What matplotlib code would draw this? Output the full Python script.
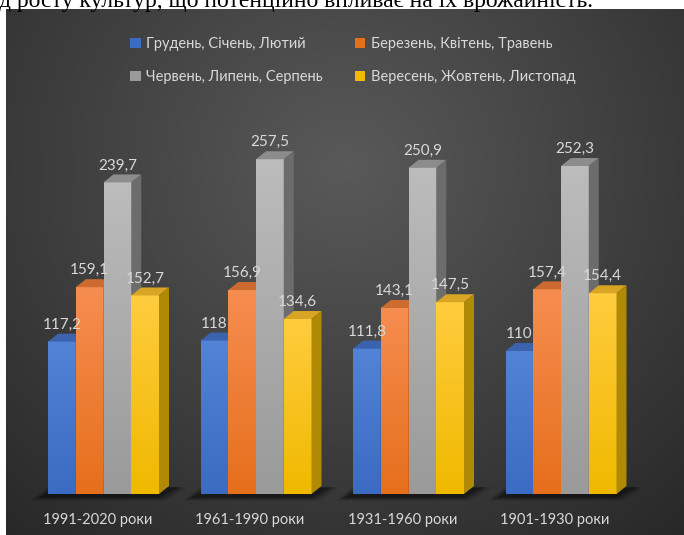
import numpy as np
import matplotlib.pyplot as plt
from matplotlib.patches import Polygon, Patch
from matplotlib.colors import to_rgb

# дані
periods = ['1991-2020 роки', '1961-1990 роки', '1931-1960 роки', '1901-1930 роки']
seasons = ['Грудень, Січень, Лютий', 'Березень, Квітень, Травень',
           'Червень, Липень, Серпень', 'Вересень, Жовтень, Листопад']
winter = [117.2, 118, 111.8, 110]
spring = [159.1, 156.9, 143.1, 157.4]
summer = [239.7, 257.5, 250.9, 252.3]
autumn = [152.7, 134.6, 147.5, 154.4]
series = [winter, spring, summer, autumn]

# кольори: перед (верх, низ), верхня грань, бічна грань
front_top = ['#5283d6', '#f68d50', '#bcbcbc', '#ffcc3d']
front_bot = ['#3b6bc2', '#e66f1c', '#9a9a9a', '#f0b900']
top_col = ['#3a62ad', '#cc6a30', '#8c8c8c', '#d8a624']
side_col = ['#2d5294', '#b35a1e', '#6c6c6c', '#b08a05']

fig = plt.figure(figsize=(6.84, 5.35), dpi=100)
fig.patch.set_facecolor('white')

fig.text(-0.002, 528 / 535, 'д росту культур, що потенційно впливає на їх врожайність.',
         family='Liberation Serif', fontsize=17, va='baseline', color='black')

# фон з радіальним градієнтом
bg = fig.add_axes([6 / 684, 0, 678 / 684, 526 / 535])
yy, xx = np.mgrid[0:1:300j, 0:1:400j]
d = np.sqrt(((xx - 0.5) / 0.8) ** 2 + ((yy - 0.3) / 0.95) ** 2)
v = 0.35 - 0.2 * np.clip(d, 0, 1)
bg.imshow(np.dstack([v, v, v]), extent=[0, 1, 0, 1], aspect='auto', origin='upper')
bg.axis('off')

ax = fig.add_axes([0, 0, 1, 1])
ax.axis('off')

w = 111 / 4 / 152.5
dx = 10 / 152.5
dy = 8 / 1.3


def grad(c1, c2, n=64):
    a = np.array(to_rgb(c1))
    b = np.array(to_rgb(c2))
    t = np.linspace(0, 1, n)[:, None]
    return (a * (1 - t) + b * t)[:, None, :]


for i in range(len(periods)):
    left = i - 2 * w
    right = i + 2 * w
    # тінь на підлозі
    for k, a in enumerate([0.15, 0.2, 0.3]):
        e = 0.025 * (2 - k)
        ax.add_patch(Polygon([(left - 0.06 - e, -3 - (2 - k)), (right + 0.0 + e, -3 - (2 - k)),
                              (right + dx + 0.06 + e, dy - 1), (left + dx - 0.02 - e, dy - 1)],
                             closed=True, facecolor='black', edgecolor='none', alpha=a, zorder=1))
    for j, s in enumerate(series):
        h = s[i]
        x0 = left + j * w
        x1 = x0 + w
        z = 2 + j
        ax.imshow(grad(front_top[j], front_bot[j]), extent=[x0, x1, 0, h], aspect='auto',
                  origin='upper', zorder=z + 0.1)
        ax.add_patch(Polygon([(x0, h), (x1, h), (x1 + dx, h + dy), (x0 + dx, h + dy)],
                             closed=True, facecolor=top_col[j], edgecolor='none', zorder=z + 0.2))
        ax.add_patch(Polygon([(x1, 0), (x1 + dx, dy), (x1 + dx, h + dy), (x1, h)],
                             closed=True, facecolor=side_col[j], edgecolor='none', zorder=z + 0.2))
        txt = ('%g' % h).replace('.', ',')
        ax.text(x0 + w / 2, h + dy + 1.5, txt, ha='center', va='bottom', color='#d9d9d9',
                fontsize=11, family='Lato', zorder=10)
    ax.text(i - 0.04, -20, periods[i], ha='center', va='center', color='#d9d9d9',
            fontsize=10.5, family='Lato', zorder=10)

ax.set_xlim(-103.5 / 152.5, (684 - 103.5) / 152.5)
ax.set_ylim(-41 / 1.3, 494 / 1.3)

handles = [Patch(facecolor=front_bot[j], edgecolor='none') for j in [0, 2, 1, 3]]
labs = [seasons[j] for j in [0, 2, 1, 3]]
leg = ax.legend(handles, labs, ncol=2, loc='upper center', bbox_to_anchor=(353 / 684, 1 - 24 / 535),
                bbox_transform=fig.transFigure, frameon=False, fontsize=10.5, labelcolor='#d9d9d9',
                handlelength=0.7, handleheight=0.7, handletextpad=0.4, columnspacing=2.2,
                labelspacing=1.3, prop={'family': 'Lato', 'size': 10.5})

fig.savefig('out.png', dpi=100)
